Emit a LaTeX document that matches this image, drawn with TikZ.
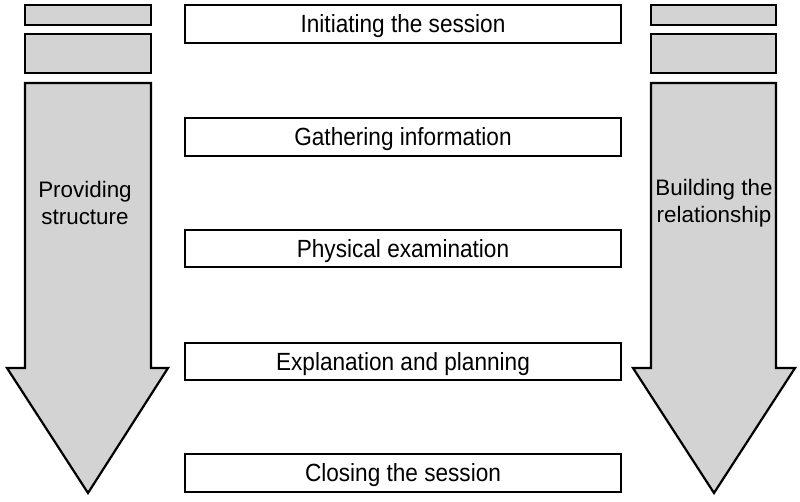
\documentclass[tikz,border=0pt]{standalone}
\usepackage{fontspec}
\setmainfont{Liberation Sans}
\newcommand{\stagetext}[1]{\scalebox{1}[1.1]{#1}}
\begin{document}
\begin{tikzpicture}[x=1pt,y=-1pt,
  greybox/.style={draw=black,line width=2.2pt,fill=boxgrey},
  stagebox/.style={draw=black,line width=2pt,fill=white,minimum width=436pt,minimum height=37.5pt,inner sep=0pt,text height=17.8pt,text depth=0pt,font=\fontsize{22.6}{26}\selectfont},
  sidelabel/.style={align=center,font=\fontsize{22.4}{27}\selectfont}]
\definecolor{boxgrey}{HTML}{D3D3D3}
\useasboundingbox (0,0) rectangle (800,501);
% left column
\draw[greybox] (25,5) rectangle (151,25);
\draw[greybox] (25,34) rectangle (151,73);
\draw[greybox,line join=miter] (25,83) -- (151,83) -- (151,368) -- (168,368) -- (88,493) -- (7,368) -- (25,368) -- cycle;
\node[sidelabel] (lbl) at (85,203) {Providing\\structure};
% right column
\draw[greybox] (651,5) rectangle (776,25);
\draw[greybox] (651,34) rectangle (776,73);
\draw[greybox,line join=miter] (651,83) -- (776,83) -- (776,368) -- (795,368) -- (714,493) -- (633,368) -- (651,368) -- cycle;
\node[sidelabel] (rbl) at (714,203) {Building the\\relationship};
% stages
\node[stagebox] (s1) at (403,24) {\stagetext{Initiating the session}};
\node[stagebox] (s2) at (403,137) {\stagetext{Gathering information}};
\node[stagebox] (s3) at (403,248.5) {\stagetext{Physical examination}};
\node[stagebox] (s4) at (403,361.5) {\stagetext{Explanation and planning}};
\node[stagebox] (s5) at (403,473) {\stagetext{Closing the session}};
\end{tikzpicture}
\end{document}
